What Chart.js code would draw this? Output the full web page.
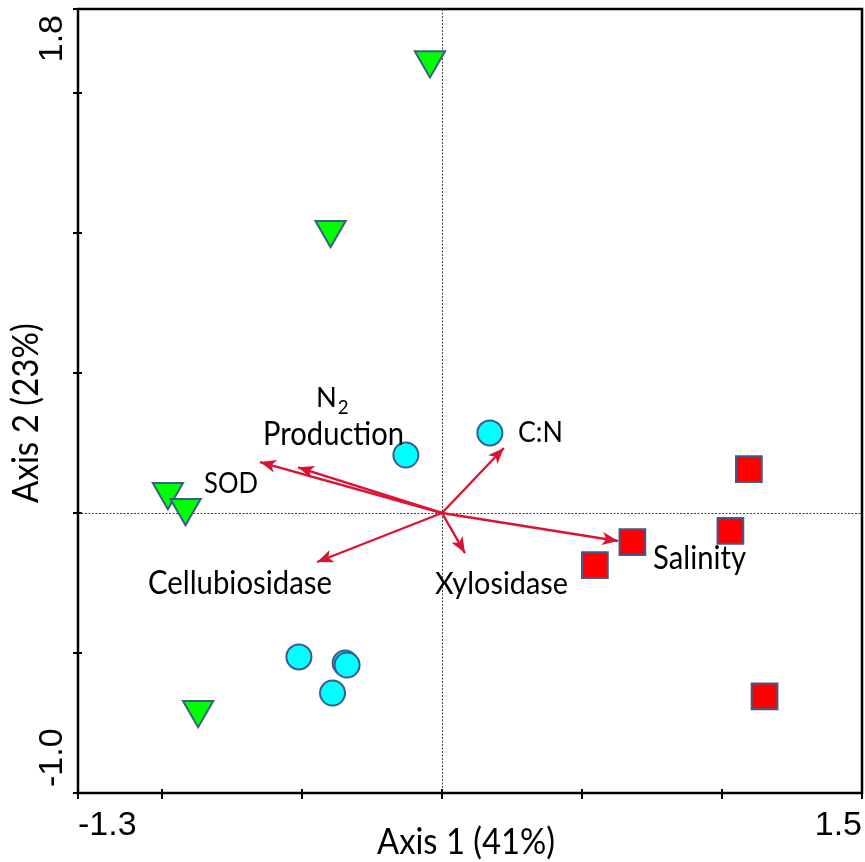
<!DOCTYPE html>
<html><head><meta charset="utf-8">
<script src="https://cdn.jsdelivr.net/npm/chart.js@4/dist/chart.umd.min.js"></script>
<style>html,body{margin:0;padding:0;background:#fff;}canvas{display:block}</style>
</head><body>
<canvas id="c" width="865" height="862"></canvas>
<script>
// ---- data ----
const xTicks = [-1.3, -1.0, -0.5, 0, 0.5, 1.0, 1.5];
const xTickLabels = ['-1.3', '', '', '', '', '', '1.5'];
const yTicks = [-1.0, -0.5, 0, 0.5, 1.0, 1.5, 1.8];
const yTickLabels = ['-1.0', '', '', '', '', '', '1.8'];
const xTitle = 'Axis 1 (41%)';
const yTitle = 'Axis 2 (23%)';

const triX = [-0.043, -0.398, -0.979, -0.916, -0.871];
const triY = [1.618, 1.012, 0.076, 0.019, -0.703];

const circX = [-0.511, -0.346, -0.339, -0.391, -0.129, 0.171];
const circY = [-0.514, -0.536, -0.543, -0.643, 0.207, 0.286];

const sqX = [1.096, 1.030, 0.680, 0.546, 1.152];
const sqY = [0.157, -0.064, -0.104, -0.186, -0.655];

const arrowNames = ['N2 Production', 'SOD', 'Cellubiosidase', 'C:N', 'Xylosidase', 'Salinity'];
const arrowX = [-0.650, -0.514, -0.446, 0.221, 0.082, 0.629];
const arrowY = [0.182, 0.163, -0.175, 0.232, -0.143, -0.100];

// ---- label layout (data-space anchors: left, baseline; target width px) ----
const labelLayout = [
  {text: 'Production', x: -0.639, y: 0.243, w: 141},
  {text: 'SOD', x: -0.850, y: 0.071, w: 54},
  {text: 'Cellubiosidase', x: -1.050, y: -0.289, w: 184},
  {text: 'C:N', x: 0.271, y: 0.254, w: 45},
  {text: 'Xylosidase', x: -0.025, y: -0.289, w: 133},
  {text: 'Salinity', x: 0.754, y: -0.200, w: 93}
];
const n2Layout = {x: -0.450, y: 0.379};

const ARROW = '#DC1433';
const EDGE = '#3F5B8C';
const LABEL_FONT = 'Lato, "Open Sans", sans-serif';
const TICK_FONT = '"Liberation Sans", Arial, sans-serif';
const STRETCH = 1.1; // taller glyphs, same width

const pts = (xs, ys) => xs.map((v, i) => ({x: v, y: ys[i]}));

const arrowSets = arrowNames.map((n, i) => ({
  label: n, type: 'line', isArrow: true, order: 2,
  data: [{x: 0, y: 0}, {x: arrowX[i], y: arrowY[i]}],
  borderColor: ARROW, borderWidth: 2.4, pointRadius: 0, fill: false, tension: 0
}));

function fitSize(ctx, text, family, w) {
  ctx.font = '100px ' + family;
  return 100 * w / ctx.measureText(text).width;
}
function drawFit(ctx, text, px, py, w) {
  const sz = fitSize(ctx, text, LABEL_FONT, w) * STRETCH;
  ctx.save();
  ctx.translate(px, py); ctx.scale(1 / STRETCH, 1);
  ctx.font = sz + 'px ' + LABEL_FONT; ctx.textAlign = 'left';
  ctx.fillText(text, 0, 0);
  ctx.restore();
  return sz;
}

const biplot = {
  id: 'biplot',
  beforeDatasetsDraw(chart) {
    const {ctx, chartArea: a, scales: {x, y}} = chart;
    ctx.save();
    ctx.strokeStyle = '#444'; ctx.lineWidth = 1; ctx.setLineDash([2, 1.5]);
    const x0 = Math.round(x.getPixelForValue(0)) + 0.5;
    const y0 = Math.round(y.getPixelForValue(0)) + 0.5;
    ctx.beginPath();
    ctx.moveTo(x0, a.top); ctx.lineTo(x0, a.bottom);
    ctx.moveTo(a.left, y0); ctx.lineTo(a.right, y0);
    ctx.stroke();
    ctx.restore();
  },
  afterDatasetsDraw(chart) {
    const ctx = chart.ctx;
    ctx.save();
    ctx.fillStyle = ARROW;
    chart.data.datasets.forEach((ds, i) => {
      if (!ds.isArrow) return;
      const m = chart.getDatasetMeta(i).data;
      const p0 = m[0], p1 = m[1];
      const ang = Math.atan2(p1.y - p0.y, p1.x - p0.x);
      const L = 16, H = 6.5;
      ctx.save();
      ctx.translate(p1.x, p1.y); ctx.rotate(ang);
      ctx.beginPath();
      ctx.moveTo(0, 0); ctx.lineTo(-L, -H); ctx.lineTo(-L * 0.75, 0); ctx.lineTo(-L, H);
      ctx.closePath(); ctx.fill();
      ctx.restore();
    });
    ctx.restore();
  },
  afterDraw(chart) {
    const {ctx, chartArea: a, scales: {x, y}} = chart;
    ctx.save();
    // frame
    ctx.strokeStyle = '#000'; ctx.lineWidth = 2.5;
    ctx.strokeRect(a.left, a.top, a.right - a.left, a.bottom - a.top);
    // tick marks
    ctx.lineWidth = 2;
    ctx.beginPath();
    xTicks.forEach(v => { const p = x.getPixelForValue(v); ctx.moveTo(p, a.bottom - 4); ctx.lineTo(p, a.bottom + 6); });
    yTicks.forEach(v => { const p = y.getPixelForValue(v); ctx.moveTo(a.left - 5, p); ctx.lineTo(a.left + 4, p); });
    ctx.stroke();
    // tick labels
    ctx.fillStyle = '#000';
    ctx.font = '34px ' + TICK_FONT;
    ctx.textBaseline = 'alphabetic';
    xTicks.forEach((v, i) => {
      const t = xTickLabels[i]; if (!t) return;
      const p = x.getPixelForValue(v);
      ctx.textAlign = i === 0 ? 'left' : 'right';
      ctx.fillText(t, p, a.bottom + 42);
    });
    yTicks.forEach((v, i) => {
      const t = yTickLabels[i]; if (!t) return;
      const p = y.getPixelForValue(v);
      ctx.save();
      ctx.translate(a.left - 16, i === 0 ? p - 6 : p + 6);
      ctx.rotate(-Math.PI / 2);
      ctx.textAlign = i === 0 ? 'left' : 'right';
      ctx.fillText(t, 0, 0);
      ctx.restore();
    });
    // axis titles
    drawFit(ctx, xTitle, 377, 854, 178);
    ctx.save();
    ctx.translate(38, 503); ctx.rotate(-Math.PI / 2);
    drawFit(ctx, yTitle, 0, 0, 180);
    ctx.restore();
    // variable labels
    let prodSize = 30;
    labelLayout.forEach(l => {
      const sz = drawFit(ctx, l.text, x.getPixelForValue(l.x), y.getPixelForValue(l.y), l.w);
      if (l.text === 'Production') prodSize = sz;
    });
    const nx = x.getPixelForValue(n2Layout.x), ny = y.getPixelForValue(n2Layout.y);
    ctx.textAlign = 'left';
    ctx.font = (prodSize * 0.85) + 'px ' + LABEL_FONT;
    ctx.fillText('N', nx, ny);
    const nw = ctx.measureText('N').width;
    ctx.font = (prodSize * 0.58) + 'px ' + LABEL_FONT;
    ctx.fillText('2', nx + nw + 1, ny + 7);
    ctx.restore();
  }
};

new Chart(document.getElementById('c'), {
  type: 'scatter',
  data: {
    datasets: [
      ...arrowSets,
      {label: 'triangles', order: 1, data: pts(triX, triY), pointStyle: 'triangle', rotation: 180,
       pointRadius: 17.5, pointHoverRadius: 17.5, backgroundColor: '#00FF00', borderColor: EDGE, borderWidth: 2},
      {label: 'circles', order: 1, data: pts(circX, circY), pointStyle: 'circle',
       pointRadius: 12.5, pointHoverRadius: 12.5, backgroundColor: '#00FFFF', borderColor: EDGE, borderWidth: 2},
      {label: 'squares', order: 1, data: pts(sqX, sqY), pointStyle: 'rect',
       pointRadius: 18.2, pointHoverRadius: 18.2, backgroundColor: '#FF0000', borderColor: EDGE, borderWidth: 2}
    ]
  },
  options: {
    responsive: false, animation: false,
    layout: {autoPadding: false, padding: {top: 9, right: 3, left: 0, bottom: 0}},
    plugins: {legend: {display: false}, tooltip: {enabled: false}},
    scales: {
      x: {type: 'linear', min: -1.3, max: 1.5,
          afterBuildTicks: sc => { sc.ticks = xTicks.map(v => ({value: v})); },
          afterFit: sc => { sc.height = 69; },
          ticks: {display: false}, grid: {display: false}, border: {display: false}},
      y: {type: 'linear', min: -1.0, max: 1.8,
          afterBuildTicks: sc => { sc.ticks = yTicks.map(v => ({value: v})); },
          afterFit: sc => { sc.width = 78; },
          ticks: {display: false}, grid: {display: false}, border: {display: false}}
    }
  },
  plugins: [biplot]
});
</script></body></html>
